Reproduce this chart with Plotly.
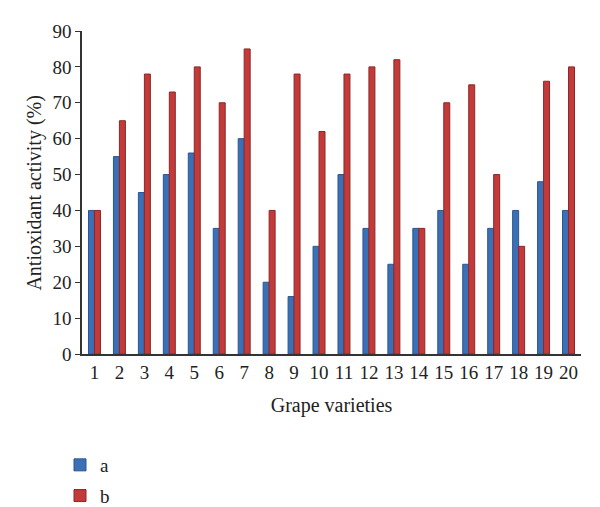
import plotly.graph_objects as go

categories = [str(i) for i in range(1, 21)]
series_a = [40, 55, 45, 50, 56, 35, 60, 20, 16, 30, 50, 35, 25, 35, 40, 25, 35, 40, 48, 40]
series_b = [40, 65, 78, 73, 80, 70, 85, 40, 78, 62, 78, 80, 82, 35, 70, 75, 50, 30, 76, 80]
y_ticks = list(range(0, 91, 10))

font_family = "Liberation Serif, Times New Roman, serif"
fs = 19
fts = 20
W, H = 592, 499  # page body has an 8px margin

fig = go.Figure()
fig.add_trace(go.Bar(x=categories, y=series_a, name="a", legendgroup="a",
                     marker=dict(color="#3b70b6", line=dict(color="#2a5690", width=1))))
fig.add_trace(go.Bar(x=categories, y=series_b, name="b", legendgroup="b",
                     marker=dict(color="#c23a3a", line=dict(color="#8e2626", width=1))))

fig.update_layout(
    width=W, height=H,
    margin=dict(l=74, r=19, t=23, b=153, autoexpand=False),
    paper_bgcolor="white", plot_bgcolor="white",
    font=dict(family=font_family, size=fs, color="#222"),
    barmode="group", bargap=0.52, bargroupgap=0,
    legend=dict(xref="container", yref="container", x=52 / W, y=1 - 438 / H,
                xanchor="left", yanchor="top", itemwidth=30,
                font=dict(size=fs), tracegroupgap=3, bgcolor="rgba(0,0,0,0)"),
    xaxis=dict(
        showline=True, linecolor="#333", linewidth=1.5,
        ticks="", tickfont=dict(size=fs), automargin=True,
        title=dict(text="Grape varieties", font=dict(size=fts), standoff=16),
        showgrid=False,
    ),
    yaxis=dict(
        range=[0, 90], tickvals=y_ticks, automargin=True,
        showline=True, linecolor="#333", linewidth=1.5,
        ticks="outside", ticklen=5, tickcolor="#333",
        tickfont=dict(size=fs),
        showgrid=False, zeroline=False,
    ),
    annotations=[dict(
        text="Antioxidant activity (%)", textangle=-90,
        xref="paper", yref="paper", x=-0.096, y=0.5,
        xanchor="center", yanchor="middle", showarrow=False,
        font=dict(size=fts, family=font_family, color="#222"),
    )],
)

fig.write_html("out.html")
